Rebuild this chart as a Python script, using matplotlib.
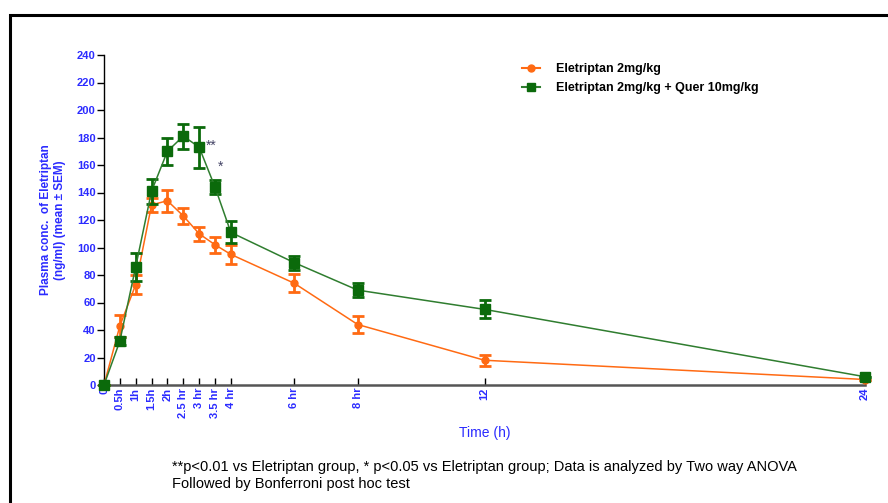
import matplotlib
matplotlib.use("Agg")
import matplotlib.pyplot as plt
from matplotlib.patches import Rectangle
from matplotlib.lines import Line2D

plt.rcParams["font.family"] = ["Liberation Sans", "DejaVu Sans"]

# time points (h) and their tick labels
time_h = [0, 0.5, 1, 1.5, 2, 2.5, 3, 3.5, 4, 6, 8, 12, 24]
tick_labels = ["0", "0.5h", "1h", "1.5h", "2h", "2.5 hr", "3 hr", "3.5 hr",
               "4 hr", "6 hr", "8 hr", "12", "24"]

# Eletriptan 2mg/kg
ele_mean = [0, 43, 73, 131, 134, 123, 110, 102, 95, 74, 44, 18, 4]
ele_sem = [0, 8, 7, 5, 8, 6, 5, 6, 7, 6.5, 6.5, 4, 0]

# Eletriptan 2mg/kg + Quer 10mg/kg
quer_mean = [0, 32, 86, 141, 170, 181, 173, 144, 111, 89, 69, 55, 6]
quer_sem = [0, 3, 10, 9, 10, 9, 15, 5, 8, 5, 5, 6.5, 0]

# significance marks
sig_x = [3.38, 3.68]
sig_y = [174, 159]
sig_txt = ["**", "*"]

blue = "#2b2bff"
orange = "#ff6a13"
green = "#0b6a0b"
green_line = "#2f7d2f"

fig = plt.figure(figsize=(8.88, 5.03), dpi=100)
fig.patches.append(Rectangle((10 / 888, -0.1), 1.2, 1 - 15 / 503 + 0.1,
                             transform=fig.transFigure, fill=False,
                             edgecolor="black", linewidth=2.2))

ax = fig.add_axes([104 / 888, 1 - 385 / 503, (865 - 104) / 888, (385 - 55) / 503])

ax.errorbar(time_h, ele_mean, yerr=ele_sem, color=orange, marker="o",
            markersize=5, linewidth=1.1, elinewidth=2, capsize=4, capthick=2,
            clip_on=False, zorder=3)
ax.errorbar(time_h, quer_mean, yerr=quer_sem, color=green_line, marker="s",
            mfc=green, mec=green, ecolor=green,
            markersize=6.5, linewidth=1.1, elinewidth=2, capsize=4, capthick=2,
            clip_on=False, zorder=4)

for x, y, t in zip(sig_x, sig_y, sig_txt):
    ax.text(x, y, t, color="#444466", fontsize=10, ha="center", va="center")

ax.set_xlim(0, 24)
ax.set_ylim(0, 240)
ax.set_yticks(range(0, 241, 20))
ax.set_xticks(time_h)
ax.set_xticklabels(tick_labels, rotation=90)

for lab in ax.get_yticklabels():
    lab.set_color(blue)
    lab.set_fontweight("bold")
    lab.set_fontsize(8)
for lab in ax.get_xticklabels():
    lab.set_color(blue)
    lab.set_fontweight("bold")
    lab.set_fontsize(8)

ax.tick_params(axis="y", direction="out", length=5, width=1, pad=1)
ax.tick_params(axis="x", direction="in", length=5, width=1, pad=2)

ax.spines["top"].set_visible(False)
ax.spines["right"].set_visible(False)
ax.spines["left"].set_linewidth(1)
ax.spines["bottom"].set_color("#555555")
ax.spines["bottom"].set_linewidth(1.8)

ax.set_ylabel("Plasma conc.  of Eletriptan\n(ng/ml) (mean \u00b1 SEM)",
              color=blue, fontweight="bold", fontsize=8.5, labelpad=8)
ax.set_xlabel("Time (h)", color=blue, fontsize=10, labelpad=6)

handles = [
    Line2D([], [], color=orange, marker="o", markersize=5, linewidth=1.5),
    Line2D([], [], color=green_line, marker="s", mfc=green, mec=green,
           markersize=6, linewidth=1.5),
]
ax.legend(handles, ["Eletriptan 2mg/kg", "Eletriptan 2mg/kg + Quer 10mg/kg"],
          loc="upper left", bbox_to_anchor=(0.535, 1.01), frameon=False,
          handlelength=1.4, handletextpad=1.3, labelspacing=0.6,
          prop={"weight": "bold", "size": 9})

fig.text(172 / 888, 1 - 467 / 503,
         "**p<0.01 vs Eletriptan group, * p<0.05 vs Eletriptan group; "
         "Data is analyzed by Two way ANOVA",
         fontsize=10.5, va="center")
fig.text(172 / 888, 1 - 484 / 503, "Followed by Bonferroni post hoc test",
         fontsize=10.5, va="center")

fig.savefig("out.png", dpi=100)
